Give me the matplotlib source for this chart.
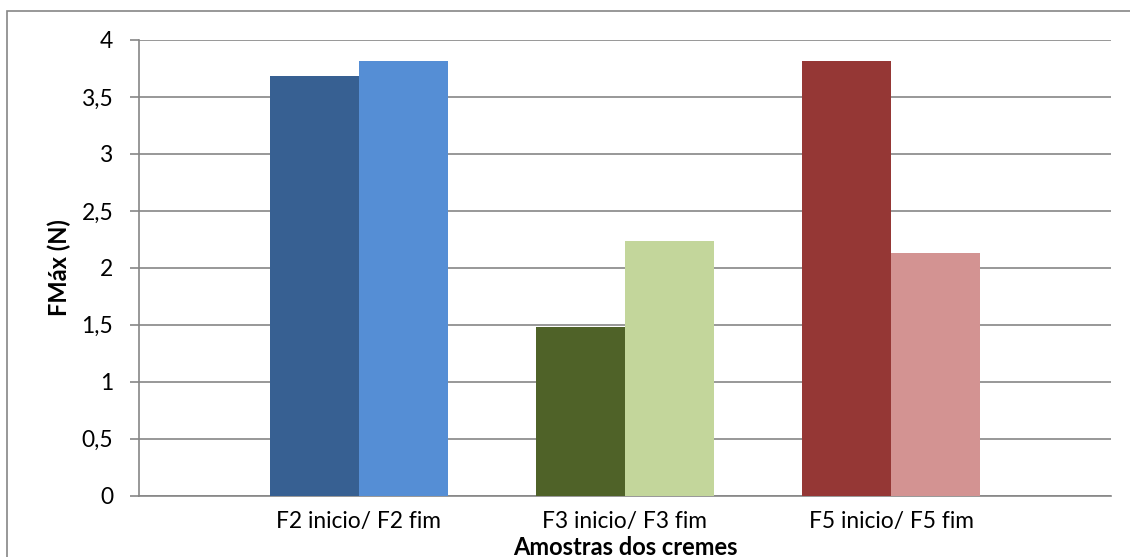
import matplotlib
matplotlib.use("Agg")
import matplotlib.pyplot as plt
from matplotlib.patches import Rectangle
import numpy as np

plt.rcParams['font.family'] = ['Lato', 'DejaVu Sans']

categories = ["F2 inicio/ F2 fim", "F3 inicio/ F3 fim", "F5 inicio/ F5 fim"]
inicio_values = [3.68, 1.48, 3.82]
fim_values = [3.82, 2.24, 2.13]
inicio_colors = ["#376092", "#4F6228", "#953735"]
fim_colors = ["#558ED5", "#C3D69B", "#D39392"]
y_ticks = [0, 0.5, 1, 1.5, 2, 2.5, 3, 3.5, 4]
y_tick_labels = ["0", "0,5", "1", "1,5", "2", "2,5", "3", "3,5", "4"]

W, H = 1130, 557
fig = plt.figure(figsize=(W / 100, H / 100), dpi=100)
ax = fig.add_axes([139 / W, 1 - 495.7 / H, (1111 - 139) / W, (495.7 - 40) / H])

x = np.arange(len(categories))
bw = 0.335
ax.bar(x - bw / 2, inicio_values, width=bw, color=inicio_colors, zorder=3)
ax.bar(x + bw / 2, fim_values, width=bw, color=fim_colors, zorder=3)

ax.set_xlim(-0.827, 2.827)
ax.set_ylim(0, 4)
ax.set_yticks(y_ticks)
ax.set_yticklabels(y_tick_labels, fontsize=16.4)
ax.set_xticks(x)
ax.set_xticklabels(categories, fontsize=16.4)
ax.tick_params(axis='x', length=0, pad=11)
ax.tick_params(axis='y', length=6.5, width=1.2, color="#868686", pad=12)

ax.grid(axis='y', color="#868686", linewidth=1.2, zorder=0)
for side in ("top", "right"):
    ax.spines[side].set_visible(False)
for side in ("left", "bottom"):
    ax.spines[side].set_color("#868686")
    ax.spines[side].set_linewidth(1.2)

ax.set_ylabel("FMáx (N)", fontsize=17, fontweight="bold")
ax.yaxis.set_label_coords(-(139 - 59) / (1111 - 139), 0.5)
ax.yaxis.label.set_va("center")
ax.set_xlabel("Amostras dos cremes", fontsize=17, fontweight="bold")
ax.xaxis.set_label_coords(0.5, -(536 - 495.7) / (495.7 - 40))

# outer chart frame
fig.patches.append(Rectangle((6.5 / W, -0.05), 1.2, 1.05 - 10.5 / H,
                             transform=fig.transFigure, fill=False,
                             edgecolor="#868686", linewidth=1.2))

fig.savefig("out.png", dpi=100)
